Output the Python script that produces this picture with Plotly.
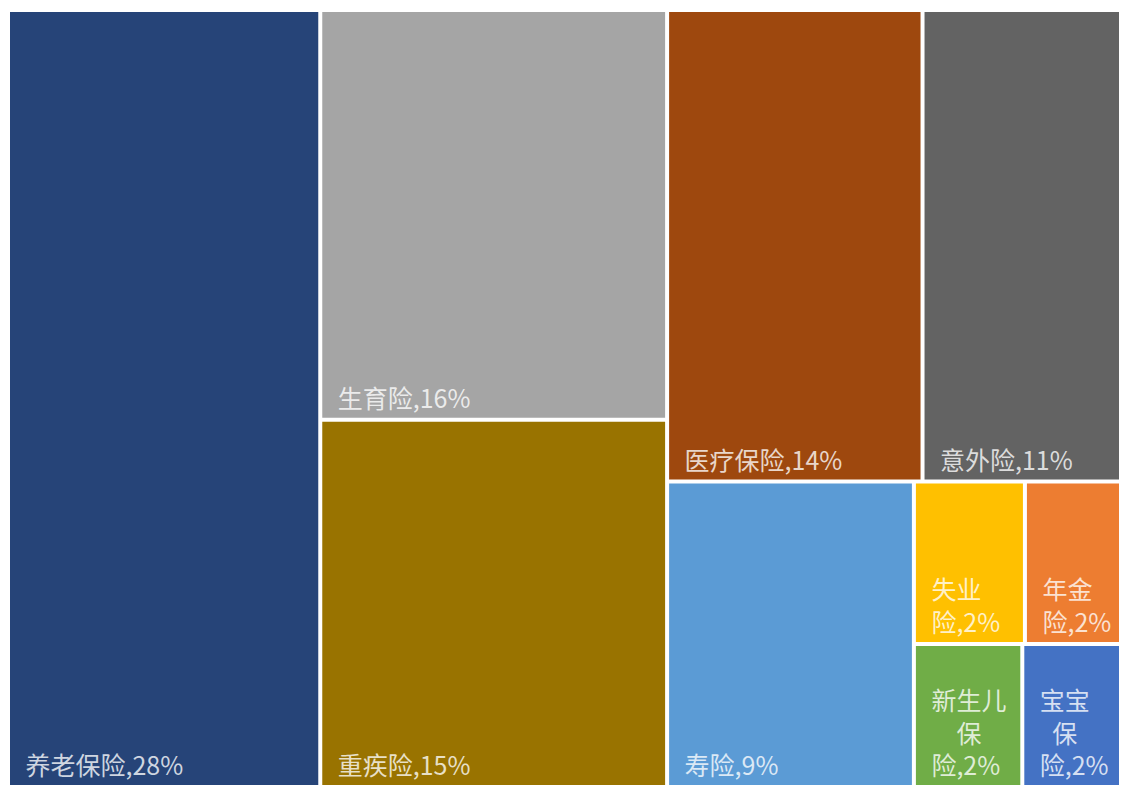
import plotly.graph_objects as go

# ---- data (tile areas, in % of total) ----
categories = ["养老保险", "生育险", "重疾险", "医疗保险", "意外险",
              "寿险", "失业险", "年金险", "新生儿保险", "宝宝保险"]
shares = [28.0, 16.4, 14.7, 13.9, 10.8, 8.7, 2.08, 1.8, 1.79, 1.63]
colors = ["#264478", "#A5A5A5", "#997300", "#9E480E", "#636363",
          "#5B9BD5", "#FFC000", "#ED7D31", "#70AD47", "#4472C4"]
# names as wrapped inside the narrow tiles
display_names = ["养老保险", "生育险", "重疾险", "医疗保险", "意外险",
                 "寿险", "失业<br>险", "年金<br>险",
                 "新生儿<br>\u2003保<br>险", "宝宝<br>\u2002保<br>险"]

# Excel-style tile grouping (layout-only groups, carry no value of their own)
leaf_parents = ["", "g1", "g1", "g3", "g3", "g4", "g6", "g6", "g7", "g7"]
layout_groups = ["g1", "g2", "g3", "g4", "g5", "g6", "g7"]
group_parents = ["", "", "g2", "g2", "g4", "g5", "g5"]

ids = categories + layout_groups
labels = categories + [""] * len(layout_groups)
parents = leaf_parents + group_parents
values = shares + [0] * len(layout_groups)
texts = ["\u2002" + f"{n},{round(v)}%".replace("<br>", "<br>\u2002")
         for n, v in zip(display_names, shares)] + [""] * len(layout_groups)
tile_colors = colors + ["white"] * len(layout_groups)

fig = go.Figure(go.Treemap(
    ids=ids,
    labels=labels,
    parents=parents,
    values=values,
    branchvalues="remainder",
    sort=False,
    text=texts,
    texttemplate="%{text}",
    textposition="bottom left",
    textfont=dict(family="Noto Sans CJK SC", size=25, color="rgba(255,255,255,0.78)"),
    marker=dict(colors=tile_colors, line=dict(width=0),
                pad=dict(t=0, l=0, r=0, b=0)),
    tiling=dict(packing="slice-dice", pad=4),
    pathbar=dict(visible=False),
    hovertemplate="%{label}: %{value:.0f}%<extra></extra>",
))

fig.update_layout(
    width=1111, height=778,
    margin=dict(l=2, r=0, t=4, b=1),
    paper_bgcolor="white",
    plot_bgcolor="white",
)

fig.write_html("out.html")
